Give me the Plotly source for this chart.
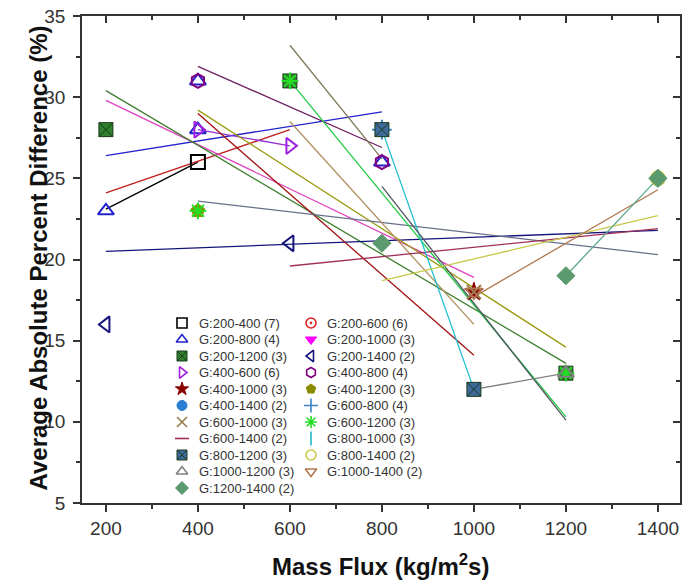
import plotly.graph_objects as go

# ---------------- data ----------------
series_names = ["G:200-400 (7)", "G:200-600 (6)", "G:200-800 (4)", "G:200-1000 (3)", "G:200-1200 (3)",
                "G:200-1400 (2)", "G:400-600 (6)", "G:400-800 (4)", "G:400-1000 (3)", "G:400-1200 (3)",
                "G:400-1400 (2)", "G:600-800 (4)", "G:600-1000 (3)", "G:600-1200 (3)", "G:600-1400 (2)",
                "G:800-1000 (3)", "G:800-1200 (3)", "G:800-1400 (2)", "G:1000-1200 (3)", "G:1000-1400 (2)",
                "G:1200-1400 (2)"]
series_symbols = ["square-open", "circle-open-dot", "triangle-up-open", "triangle-down", "square-x",
                  "triangle-left-open", "triangle-right-open", "hexagon-open", "star", "pentagon",
                  "circle", "cross-thin-open", "x-thin-open", "asterisk-open", "line-ew-open",
                  "line-ns-open", "square-x", "circle-open", "triangle-up-open", "triangle-down-open",
                  "diamond"]
series_colors = ["#000000", "#e02020", "#2222cc", "#ff00ff", "#2f7f2f",
                 "#14147a", "#a020e0", "#800080", "#8b0000", "#8b8b00",
                 "#2a7fd4", "#3a86c8", "#9a7a50", "#22dd22", "#a0305a",
                 "#20b8c8", "#3d6a9a", "#c8c84a", "#808080", "#b07850",
                 "#5a9a6e"]

# measured points (series index, mass flux, average absolute percent difference)
pt_series = [0, 2, 4, 5, 7, 2, 2, 6, 9, 13, 13, 4, 6, 5, 16, 11, 2, 7, 20, 8, 12, 19, 16, 13, 4, 18, 20, 20, 17]
pt_flux = [400, 200, 200, 200, 400, 400, 400, 400, 400, 400, 600, 600, 600, 600, 800, 800, 800, 800, 800,
           1000, 1000, 1000, 1000, 1200, 1200, 1200, 1200, 1400, 1400]
pt_aapd = [26, 23, 28, 16, 31, 31, 28, 28, 23, 23, 31, 31, 27, 21, 28, 28, 26, 26, 21,
           18, 18, 18, 12, 13, 13, 13, 19, 25, 25]

# linear trend lines (series index, start flux, start value, end flux, end value)
fit_series = [0, 1, 2, 3, 4, 5, 6, 7, 8, 9, 10, 11, 12, 13, 14, 15, 16, 17, 18, 19, 20]
fit_g0 = [200, 200, 200, 200, 200, 200, 400, 400, 400, 400, 400, 600, 600, 600, 600, 800, 800, 800, 1000, 1000, 1200]
fit_d0 = [23.1, 24.1, 26.4, 29.8, 30.4, 20.5, 28.0, 31.9, 29.0, 29.2, 23.6, 33.2, 28.5, 31.0, 19.6, 28.0, 24.5, 18.7, 12.0, 17.7, 19.0]
fit_g1 = [400, 600, 800, 1000, 1200, 1400, 600, 800, 1000, 1200, 1400, 800, 1000, 1200, 1400, 1000, 1200, 1400, 1200, 1400, 1400]
fit_d1 = [26.0, 28.0, 29.1, 18.9, 13.6, 21.8, 27.0, 26.9, 14.1, 14.6, 20.3, 26.2, 16.0, 10.3, 21.9, 12.0, 10.1, 22.7, 13.0, 24.3, 25.0]
fit_colors = ["#000000", "#c02020", "#2222cc", "#e040c0", "#3f7f2f",
              "#14147a", "#9030d0", "#702060", "#a01010", "#9a9a10",
              "#66708a", "#7f7a5a", "#b09060", "#22cc44", "#a0305a",
              "#20c0d0", "#505860", "#c8c84a", "#808080", "#b07850",
              "#5aa88a"]

x_ticks = [200, 400, 600, 800, 1000, 1200, 1400]
x_minor = [300, 500, 700, 900, 1100, 1300]
y_ticks = [5, 10, 15, 20, 25, 30, 35]
y_minor = [7.5, 12.5, 17.5, 22.5, 27.5, 32.5]
x_range = [148, 1448]
y_range = [5, 35]

# ---------------- figure ----------------
fig = go.Figure()

for k, s in enumerate(fit_series):
    fig.add_trace(go.Scatter(x=[fit_g0[k], fit_g1[k]], y=[fit_d0[k], fit_d1[k]], mode="lines",
                             line=dict(color=fit_colors[k], width=1.3), showlegend=False,
                             hoverinfo="skip"))

for s, name in enumerate(series_names):
    xs = [pt_flux[i] for i in range(len(pt_series)) if pt_series[i] == s]
    ys = [pt_aapd[i] for i in range(len(pt_series)) if pt_series[i] == s]
    if not xs:
        continue
    sym = series_symbols[s]
    filled = not sym.endswith("open") and not sym.endswith("dot")
    lc = "#1a3a1a" if sym == "square-x" else series_colors[s]
    fig.add_trace(go.Scatter(x=xs, y=ys, mode="markers", name=name, showlegend=False,
                             marker=dict(symbol=sym, size=14, color=series_colors[s],
                                         line=dict(color=lc, width=2 if not filled else 1))))

# mirrored frame axes (top / right, inward ticks)
fig.add_trace(go.Scatter(x=[None], y=[None], xaxis="x2", yaxis="y2", showlegend=False, hoverinfo="skip"))

# ---------------- manual legend (two columns) ----------------
fig_w, fig_h = 683, 585
plot_l, plot_r, plot_t, plot_b = 82, 680, 16, 503
leg_row0 = 323
leg_step = 16.5
leg_col_marker = [182, 311]
leg_col_text = [197, 325]


def px_to_paper(px, py):
    return (px - plot_l) / (plot_r - plot_l), (plot_b - py) / (plot_b - plot_t)


for s, name in enumerate(series_names):
    col = s % 2
    row = s // 2
    py = leg_row0 + leg_step * row
    mx, my = px_to_paper(leg_col_marker[col], py)
    tx, ty = px_to_paper(leg_col_text[col], py)
    sym = series_symbols[s]
    filled = not sym.endswith("open") and not sym.endswith("dot")
    lc = "#1a3a1a" if sym == "square-x" else series_colors[s]
    fig.add_trace(go.Scatter(x=[mx], y=[my], xaxis="x3", yaxis="y3", mode="markers", showlegend=False,
                             hoverinfo="skip",
                             marker=dict(symbol=sym, size=10, color=series_colors[s],
                                         line=dict(color=lc, width=1.6 if not filled else 1))))
    fig.add_annotation(x=tx, y=ty, xref="paper", yref="paper", text=name, showarrow=False,
                       xanchor="left", yanchor="middle", font=dict(size=13, color="#333333"))

axis_col = "#333333"
fig.update_layout(
    width=fig_w, height=fig_h,
    margin=dict(l=plot_l, r=fig_w - plot_r, t=plot_t, b=fig_h - plot_b, autoexpand=False),
    paper_bgcolor="white", plot_bgcolor="white", showlegend=False,
    font=dict(family="Liberation Sans, Arial, sans-serif", color=axis_col),
    xaxis=dict(range=x_range, tickvals=x_ticks, ticks="outside", ticklen=7, tickwidth=1.5,
               tickcolor=axis_col, showline=True, linecolor=axis_col, linewidth=1.5,
               showgrid=False, zeroline=False, tickfont=dict(size=19, color=axis_col),
               ticklabeloverflow="allow",
               minor=dict(tickvals=x_minor, ticks="outside", ticklen=4, tickwidth=1.5, tickcolor=axis_col)),
    yaxis=dict(range=y_range, tickvals=y_ticks, ticks="outside", ticklen=7, tickwidth=1.5,
               tickcolor=axis_col, showline=True, linecolor=axis_col, linewidth=1.5,
               showgrid=False, zeroline=False, tickfont=dict(size=19, color=axis_col),
               ticklabelstandoff=4, ticklabeloverflow="allow",
               minor=dict(tickvals=y_minor, ticks="outside", ticklen=4, tickwidth=1.5, tickcolor=axis_col)),
    xaxis2=dict(range=x_range, overlaying="x", side="top", anchor="y2", tickvals=x_ticks, ticks="inside",
                ticklen=7, tickwidth=1.5, tickcolor=axis_col, showline=True, linecolor=axis_col,
                linewidth=1.5, showticklabels=False, showgrid=False, zeroline=False,
                minor=dict(tickvals=x_minor, ticks="inside", ticklen=4, tickwidth=1.5, tickcolor=axis_col)),
    yaxis2=dict(range=y_range, overlaying="y", side="right", anchor="x2", tickvals=y_ticks, ticks="inside",
                ticklen=7, tickwidth=1.5, tickcolor=axis_col, showline=True, linecolor=axis_col,
                linewidth=1.5, showticklabels=False, showgrid=False, zeroline=False,
                minor=dict(tickvals=y_minor, ticks="inside", ticklen=4, tickwidth=1.5, tickcolor=axis_col)),
    xaxis3=dict(range=[0, 1], overlaying="x", visible=False, anchor="y3"),
    yaxis3=dict(range=[0, 1], overlaying="y", visible=False, anchor="x3"),
)

fig.add_annotation(x=(380 - plot_l) / (plot_r - plot_l), y=(plot_b - 565) / (plot_b - plot_t),
                   xref="paper", yref="paper", yanchor="middle",
                   text="<b>Mass Flux (kg/m<sup>2</sup>s)</b>", showarrow=False,
                   font=dict(size=24, color="#111111"))
fig.add_annotation(x=(22 - plot_l) / (plot_r - plot_l), y=(plot_b - 258) / (plot_b - plot_t),
                   xref="paper", yref="paper",
                   text="<b>Average Absolute Percent Difference (%)</b>", showarrow=False, textangle=-90,
                   font=dict(size=24, color="#111111"))

# remove the default page margin so the figure sits at the window's top-left corner
fig.write_html("out.html", config={"displayModeBar": False},
               post_script="document.body.style.margin='0px';")
